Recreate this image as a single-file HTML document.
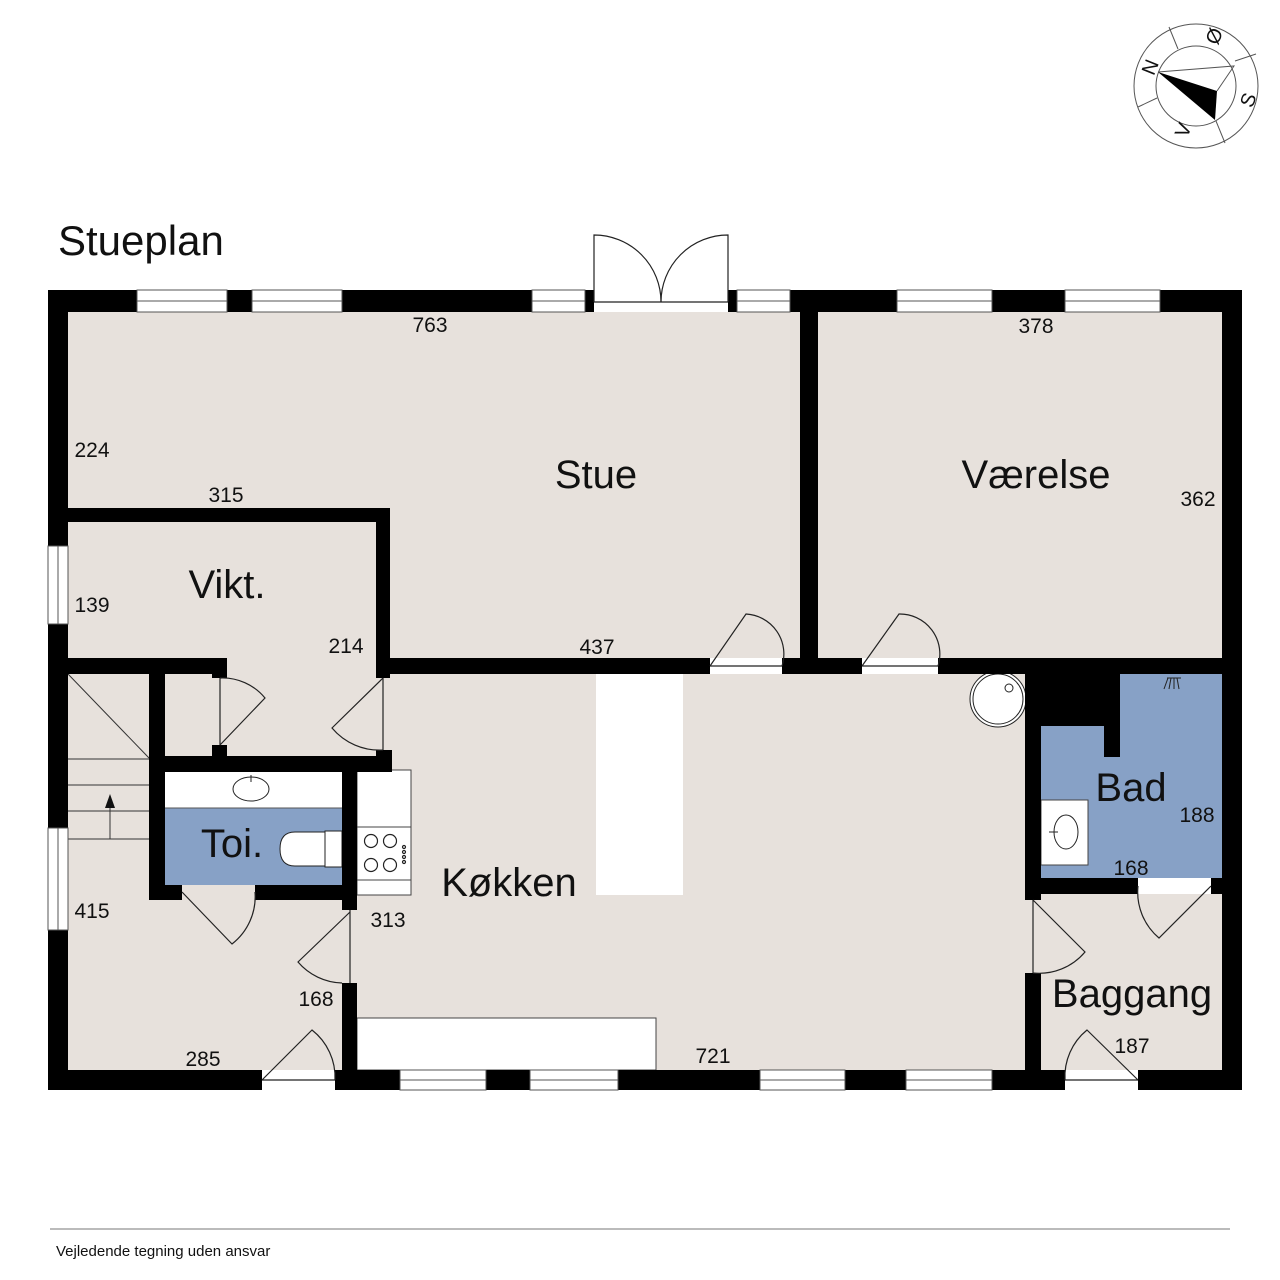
<!DOCTYPE html>
<html><head><meta charset="utf-8"><style>
html,body{margin:0;padding:0;background:#fff;}
svg{display:block}
text{font-family:"Liberation Sans",sans-serif;fill:#111}
</style></head><body>
<svg width="1280" height="1280" viewBox="0 0 1280 1280" xmlns="http://www.w3.org/2000/svg">
<rect width="1280" height="1280" fill="#fff"/>
<rect x="48" y="290" width="1194" height="800" fill="#e7e1dc"/>
<rect x="165" y="808" width="177" height="77" fill="#87a1c6"/>
<rect x="165" y="772" width="177" height="36" fill="#fff"/>
<line x1="165" y1="808" x2="342" y2="808" stroke="#555" stroke-width="1"/>
<rect x="1041" y="674" width="181" height="206" fill="#87a1c6"/>
<rect x="596" y="674" width="87" height="221" fill="#fff"/>
<rect x="357" y="1018" width="299" height="52" fill="#fff" stroke="#444" stroke-width="1"/>
<rect x="357" y="770" width="54" height="125" fill="#fff" stroke="#444" stroke-width="1"/>
<line x1="357" y1="827" x2="411" y2="827" stroke="#444"/><line x1="357" y1="880" x2="411" y2="880" stroke="#444"/>
<g fill="none" stroke="#222" stroke-width="1.2">
<circle cx="371" cy="841" r="6.5"/><circle cx="390" cy="841" r="6.5"/><circle cx="371" cy="865" r="6.5"/><circle cx="390" cy="865" r="6.5"/>
<circle cx="404" cy="847" r="1.5"/><circle cx="404" cy="852" r="1.5"/><circle cx="404" cy="857" r="1.5"/><circle cx="404" cy="862" r="1.5"/>
</g>
<ellipse cx="251" cy="789" rx="18" ry="12" fill="#fff" stroke="#222"/><line x1="251" y1="775" x2="251" y2="782" stroke="#222"/>
<path d="M325,832 L295,832 Q280,832 280,849 Q280,866 295,866 L325,866 Z" fill="#fff" stroke="#222"/>
<rect x="325" y="831" width="17" height="36" fill="#fff" stroke="#222"/>
<rect x="1041" y="800" width="47" height="65" fill="#fff" stroke="#444"/>
<ellipse cx="1066" cy="832" rx="12" ry="17" fill="none" stroke="#222"/><line x1="1049" y1="832" x2="1058" y2="832" stroke="#222"/>
<circle cx="998" cy="699" r="28" fill="#fff" stroke="#222"/><circle cx="998" cy="699" r="25" fill="none" stroke="#222"/><circle cx="1009" cy="688" r="4" fill="none" stroke="#222"/>
<g stroke="#222" stroke-width="1"><line x1="1168" y1="678" x2="1164" y2="689"/><line x1="1171" y1="678" x2="1169" y2="689"/><line x1="1174" y1="678" x2="1174" y2="689"/><line x1="1177" y1="678" x2="1179" y2="689"/><line x1="1167" y1="678" x2="1181" y2="678"/></g>
<g stroke="#333" stroke-width="1" fill="none">
<line x1="68" y1="674" x2="149" y2="758"/>
<line x1="68" y1="759" x2="149" y2="759"/><line x1="68" y1="785" x2="149" y2="785"/><line x1="68" y1="811" x2="149" y2="811"/><line x1="68" y1="839" x2="149" y2="839"/>
<line x1="110" y1="839" x2="110" y2="800"/>
</g>
<path d="M110,794 L105,808 L115,808 Z" fill="#111"/>
<g fill="#000">
<rect x="48" y="290" width="1194" height="22"/>
<rect x="48" y="1070" width="1194" height="20"/>
<rect x="48" y="290" width="20" height="800"/>
<rect x="1222" y="290" width="20" height="800"/>
<rect x="800" y="290" width="18" height="384"/>
<rect x="68" y="508" width="322" height="14"/>
<rect x="376" y="508" width="14" height="170"/>
<rect x="376" y="750" width="16" height="22"/>
<rect x="383" y="658" width="327" height="16"/>
<rect x="782" y="658" width="80" height="16"/>
<rect x="938" y="658" width="284" height="16"/>
<rect x="68" y="658" width="159" height="16"/>
<rect x="149" y="658" width="16" height="242"/>
<rect x="212" y="658" width="15" height="20"/>
<rect x="212" y="745" width="15" height="13"/>
<rect x="149" y="756" width="242" height="16"/>
<rect x="342" y="756" width="15" height="154"/>
<rect x="149" y="885" width="33" height="15"/>
<rect x="255" y="885" width="102" height="15"/>
<rect x="342" y="983" width="15" height="107"/>
<rect x="1025" y="674" width="16" height="226"/>
<rect x="1025" y="973" width="16" height="117"/>
<rect x="1041" y="674" width="79" height="52"/>
<rect x="1104" y="726" width="16" height="31"/>
<rect x="1025" y="878" width="113" height="16"/>
<rect x="1211" y="878" width="11" height="16"/>
</g>
<g fill="#fff" stroke="#555" stroke-width="1">
<rect x="137" y="290" width="90" height="22"/><line x1="137" y1="301" x2="227" y2="301"/>
<rect x="252" y="290" width="90" height="22"/><line x1="252" y1="301" x2="342" y2="301"/>
<rect x="532" y="290" width="53" height="22"/><line x1="532" y1="301" x2="585" y2="301"/>
<rect x="737" y="290" width="53" height="22"/><line x1="737" y1="301" x2="790" y2="301"/>
<rect x="897" y="290" width="95" height="22"/><line x1="897" y1="301" x2="992" y2="301"/>
<rect x="1065" y="290" width="95" height="22"/><line x1="1065" y1="301" x2="1160" y2="301"/>
<rect x="400" y="1070" width="86" height="20"/><line x1="400" y1="1080" x2="486" y2="1080"/>
<rect x="530" y="1070" width="88" height="20"/><line x1="530" y1="1080" x2="618" y2="1080"/>
<rect x="760" y="1070" width="85" height="20"/><line x1="760" y1="1080" x2="845" y2="1080"/>
<rect x="906" y="1070" width="86" height="20"/><line x1="906" y1="1080" x2="992" y2="1080"/>
<rect x="48" y="546" width="20" height="78"/><line x1="58" y1="546" x2="58" y2="624"/>
<rect x="48" y="828" width="20" height="102"/><line x1="58" y1="828" x2="58" y2="930"/>
</g>
<g fill="#fff"><rect x="594" y="290" width="134" height="22"/><rect x="262" y="1070" width="73" height="20"/><rect x="1065" y="1070" width="73" height="20"/>
<rect x="710" y="658" width="72" height="16"/><rect x="862" y="658" width="76" height="16"/><rect x="1138" y="878" width="73" height="16"/></g>
<g fill="none" stroke="#222" stroke-width="1.2">
<path d="M594,302 L594,235 A67,67 0 0 1 661,302"/><path d="M728,302 L728,235 A67,67 0 0 0 661,302"/><line x1="594" y1="302" x2="728" y2="302"/>
<path d="M710,666 L746,614 A40,40 0 0 1 782,666 M710,666 L782,666"/>
<path d="M862,666 L899,614 A40,40 0 0 1 938,666 M862,666 L938,666"/>
<path d="M383,678 L383,750 M383,678 L332,728 A62,62 0 0 0 383,750"/>
<path d="M220,678 L220,745 M220,678 A55,55 0 0 1 265,698 L220,745"/>
<path d="M182,892 L232,944 A60,60 0 0 0 255,892"/>
<path d="M350,910 L350,983 M350,912 L298,962 A60,60 0 0 0 342,983"/>
<path d="M262,1080 L335,1080 M262,1080 L312,1030 A60,60 0 0 1 335,1080"/>
<path d="M1033,900 L1033,973 M1033,900 L1085,952 A60,60 0 0 1 1033,973"/>
<path d="M1138,886 A60,60 0 0 0 1159,938 L1211,886"/>
<path d="M1065,1080 L1138,1080 M1138,1080 L1087,1030 A60,60 0 0 0 1065,1080"/>
</g>
<text x="58" y="255" font-size="42">Stueplan</text>
<g font-size="40" text-anchor="middle">
<text x="596" y="488">Stue</text>
<text x="1036" y="488">Værelse</text>
<text x="227" y="598">Vikt.</text>
<text x="232" y="857">Toi.</text>
<text x="509" y="896">Køkken</text>
<text x="1131" y="801">Bad</text>
<text x="1132" y="1007">Baggang</text>
</g>
<g font-size="21" text-anchor="middle">
<text x="430" y="332">763</text><text x="1036" y="333">378</text>
<text x="92" y="457">224</text><text x="226" y="502">315</text><text x="1198" y="506">362</text>
<text x="92" y="612">139</text><text x="346" y="653">214</text><text x="597" y="654">437</text>
<text x="1197" y="822">188</text><text x="1131" y="875">168</text>
<text x="92" y="918">415</text><text x="388" y="927">313</text><text x="316" y="1006">168</text>
<text x="203" y="1066">285</text><text x="713" y="1063">721</text><text x="1132" y="1053">187</text>
</g>
<g fill="none" stroke="#555" stroke-width="1">
<circle cx="1196" cy="86" r="62"/><circle cx="1196" cy="86" r="40"/>
<line x1="1169" y1="27" x2="1178" y2="49"/><line x1="1235" y1="61" x2="1256" y2="54"/>
<line x1="1216" y1="121" x2="1225" y2="143"/><line x1="1138" y1="107" x2="1157" y2="98"/>
<path d="M1158,72 L1234,66 L1217,91"/>
</g>
<path d="M1158,72 L1217,91 L1215,120 Z" fill="#000"/>
<g font-size="20" fill="#111">
<text x="1214" y="43" transform="rotate(-68 1214 36)" text-anchor="middle">Ø</text>
<text x="1150" y="74" transform="rotate(-68 1150 67)" text-anchor="middle">N</text>
<text x="1248" y="107" transform="rotate(-68 1248 100)" text-anchor="middle">S</text>
<text x="1183" y="137" transform="rotate(-68 1183 130)" text-anchor="middle">V</text>
</g>
<line x1="50" y1="1229" x2="1230" y2="1229" stroke="#777" stroke-width="1"/>
<text x="56" y="1256" font-size="15">Vejledende tegning uden ansvar</text>
</svg>
</body></html>
